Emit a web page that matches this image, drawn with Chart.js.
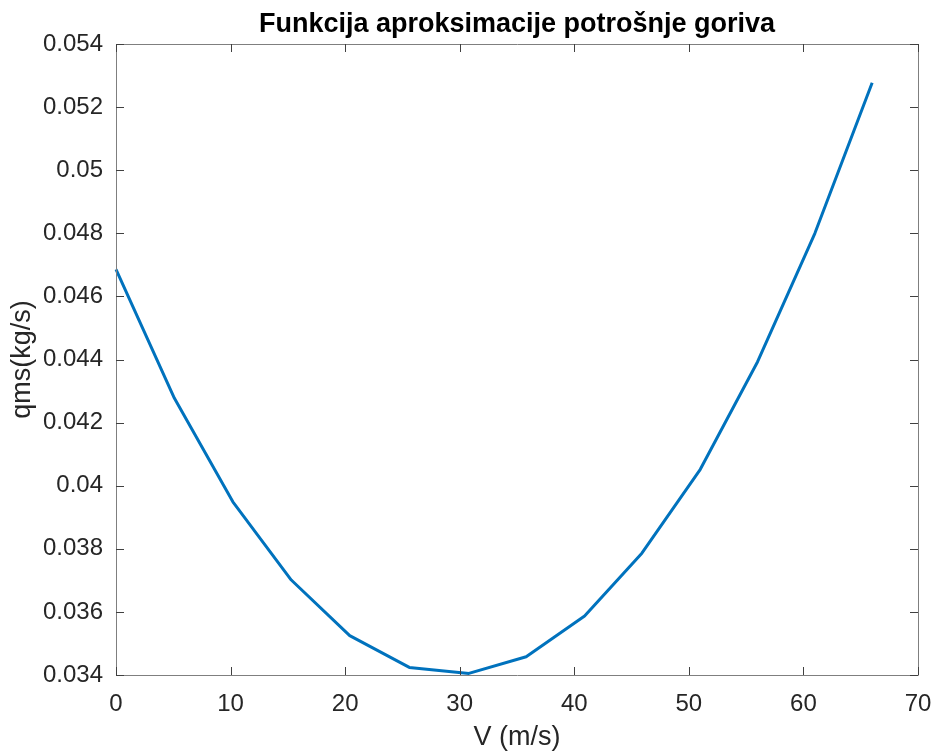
<!DOCTYPE html>
<html>
<head>
<meta charset="utf-8">
<script src="https://cdn.jsdelivr.net/npm/chart.js@4/dist/chart.umd.min.js"></script>
<style>
  html, body { margin: 0; padding: 0; background: #ffffff; }
  #wrap { width: 933px; height: 751px; }
</style>
</head>
<body>
<div id="wrap"><canvas id="c" width="933" height="751"></canvas></div>
<script>
// ---- data ----
const speeds = [0, 5.1, 10.2, 15.3, 20.4, 25.6, 30.8, 35.8, 40.9, 45.9, 51.0, 56.0, 61.0, 66.0];
const fuel = [0.04686, 0.04277, 0.03949, 0.03701, 0.03525, 0.03424, 0.03405, 0.03458, 0.03587, 0.03786, 0.04052, 0.04393, 0.04800, 0.05277];
const xTicks = [0, 10, 20, 30, 40, 50, 60, 70];
const yTicks = [0.034, 0.036, 0.038, 0.04, 0.042, 0.044, 0.046, 0.048, 0.05, 0.052, 0.054];
const titleText = 'Funkcija aproksimacije potrošnje goriva';
const xLabel = 'V (m/s)';
const yLabel = 'qms(kg/s)';

const points = speeds.map((v, i) => ({ x: v, y: fuel[i] }));
const FONT = "'Liberation Sans', Arial, Helvetica, sans-serif";

const boxPlugin = {
  id: 'matlabBox',
  afterDatasetsDraw(chart) {
    const { ctx, chartArea: a, scales } = chart;
    const len = 8;
    ctx.save();
    ctx.strokeStyle = '#7f7f7f';
    ctx.lineWidth = 1;
    ctx.beginPath();
    ctx.rect(Math.round(a.left) + 0.5, Math.round(a.top) + 0.5, Math.round(a.right - a.left), Math.round(a.bottom - a.top));
    ctx.stroke();
    ctx.strokeStyle = '#404040';
    ctx.beginPath();
    scales.x.ticks.forEach(t => {
      const px = Math.round(scales.x.getPixelForValue(t.value)) + 0.5;
      ctx.moveTo(px, a.bottom); ctx.lineTo(px, a.bottom - len);
      ctx.moveTo(px, a.top); ctx.lineTo(px, a.top + len);
    });
    scales.y.ticks.forEach(t => {
      const py = Math.round(scales.y.getPixelForValue(t.value)) + 0.5;
      ctx.moveTo(a.left, py); ctx.lineTo(a.left + len, py);
      ctx.moveTo(a.right, py); ctx.lineTo(a.right - len, py);
    });
    ctx.stroke();
    ctx.restore();
  }
};

new Chart(document.getElementById('c'), {
  type: 'scatter',
  data: {
    datasets: [{
      data: points,
      showLine: true,
      borderColor: '#0072BD',
      backgroundColor: '#0072BD',
      borderWidth: 3,
      pointRadius: 0,
      tension: 0,
      borderJoinStyle: 'round',
      clip: false
    }]
  },
  options: {
    responsive: false,
    animation: false,
    layout: { padding: { left: 0, right: 15, top: 0, bottom: 0 } },
    plugins: {
      legend: { display: false },
      tooltip: { enabled: false },
      title: {
        display: true,
        text: titleText,
        fullSize: false,
        color: '#000000',
        font: { family: FONT, size: 27, weight: 'bold', lineHeight: 1.2 },
        padding: { top: 8, bottom: 3.6 }
      }
    },
    scales: {
      x: {
        type: 'linear',
        min: 0, max: 70,
        afterBuildTicks(s) { s.ticks = xTicks.map(v => ({ value: v })); },
        afterFit(s) { s.height = 76; s.paddingRight = 14; s.paddingLeft = 8; },
        grid: { display: false, drawTicks: false },
        border: { display: false },
        ticks: {
          color: '#262626',
          padding: 15,
          font: { family: FONT, size: 24 },
          maxRotation: 0,
          callback: v => String(v)
        },
        title: {
          display: true,
          text: xLabel,
          color: '#262626',
          font: { family: FONT, size: 27, lineHeight: 1 },
          padding: { top: 0, bottom: 0 }
        }
      },
      y: {
        type: 'linear',
        min: 0.034, max: 0.054,
        afterBuildTicks(s) { s.ticks = yTicks.map(v => ({ value: v })); },
        afterFit(s) { s.width = 116; },
        grid: { display: false, drawTicks: false },
        border: { display: false },
        ticks: {
          color: '#262626',
          padding: 13,
          font: { family: FONT, size: 24 },
          callback: v => String(parseFloat(Number(v).toFixed(3)))
        },
        title: {
          display: true,
          text: yLabel,
          color: '#262626',
          font: { family: FONT, size: 27, lineHeight: 1 },
          padding: { top: 9, bottom: 0 }
        }
      }
    }
  },
  plugins: [boxPlugin]
});
</script>
</body>
</html>
